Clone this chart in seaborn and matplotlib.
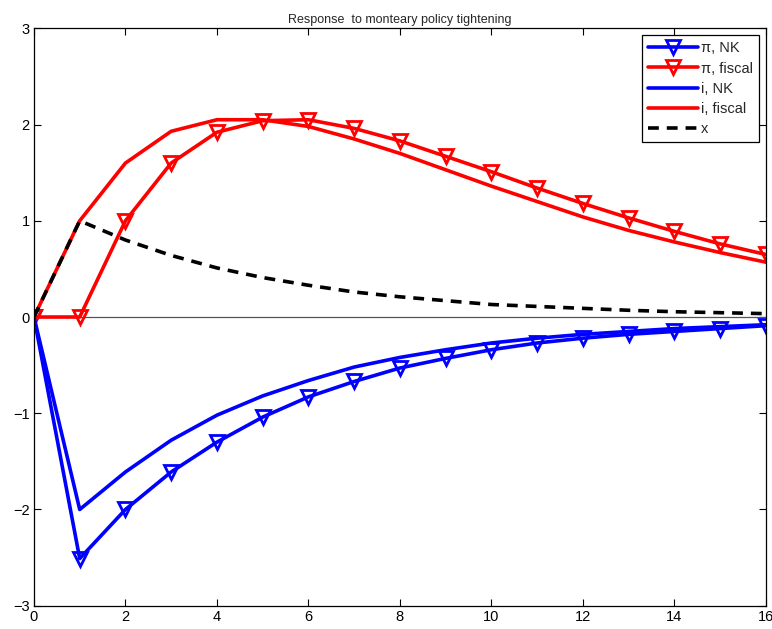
import matplotlib
matplotlib.use("Agg")
import matplotlib.pyplot as plt
import seaborn as sns
import numpy as np
import pandas as pd

periods = list(range(17))
pi_nk = [0, -2.51, -2.0, -1.61, -1.30, -1.04, -0.83, -0.67, -0.53, -0.43, -0.34, -0.27, -0.22, -0.18, -0.15, -0.12, -0.09]
pi_fiscal = [0, 0, 1.0, 1.60, 1.92, 2.04, 2.05, 1.96, 1.83, 1.67, 1.51, 1.34, 1.18, 1.03, 0.89, 0.76, 0.65]
i_nk = [0, -2.0, -1.61, -1.28, -1.02, -0.82, -0.66, -0.52, -0.42, -0.34, -0.27, -0.22, -0.18, -0.15, -0.12, -0.10, -0.08]
i_fiscal = [0, 1.0, 1.60, 1.93, 2.05, 2.05, 1.98, 1.85, 1.70, 1.53, 1.36, 1.20, 1.04, 0.90, 0.78, 0.67, 0.57]
x_gap = [0, 1.0, 0.80, 0.64, 0.51, 0.41, 0.33, 0.26, 0.21, 0.17, 0.13, 0.11, 0.09, 0.07, 0.055, 0.045, 0.035]
title = "Response  to monteary policy tightening"

sns.set_style("ticks")
plt.rcParams['font.family'] = ['Liberation Sans', 'DejaVu Sans']

fig = plt.figure(figsize=(7.72, 6.29), dpi=100)
ax = fig.add_axes([0.044, 0.037, 0.948, 0.918])

df = pd.DataFrame({"t": periods, "pi_nk": pi_nk, "pi_fiscal": pi_fiscal,
                   "i_nk": i_nk, "i_fiscal": i_fiscal, "x": x_gap})

ax.axhline(0, color="#555555", lw=0.9, zorder=1)
lw = 2.6
sns.lineplot(data=df, x="t", y="pi_nk", ax=ax, color="#0000ff", lw=lw, marker="v",
             markersize=10, markerfacecolor="none", markeredgecolor="#0000ff", markeredgewidth=2.0,
             label="\u03c0, NK")
sns.lineplot(data=df, x="t", y="pi_fiscal", ax=ax, color="#ff0000", lw=lw, marker="v",
             markersize=10, markerfacecolor="none", markeredgecolor="#ff0000", markeredgewidth=2.0,
             label="\u03c0, fiscal")
sns.lineplot(data=df, x="t", y="i_nk", ax=ax, color="#0000ff", lw=lw, label="i, NK")
sns.lineplot(data=df, x="t", y="i_fiscal", ax=ax, color="#ff0000", lw=lw, label="i, fiscal")
sns.lineplot(data=df, x="t", y="x", ax=ax, color="black", lw=lw, linestyle=(0, (3, 2.2)), label="x")

ax.set_xlim(0, 16)
ax.set_ylim(-3, 3)
ax.set_xticks(range(0, 17, 2))
ax.set_yticks(range(-3, 4))
ax.set_yticklabels(["\u22123", "\u22122", "\u22121", "0", "1", "2", "3"])
ax.set_xlabel("")
ax.set_ylabel("")
ax.tick_params(direction="in", length=5, width=0.8, top=True, right=True, labelsize=10.5, pad=3, colors="black")
for s in ax.spines.values():
    s.set_visible(True)
    s.set_color("black")
    s.set_linewidth(0.9)
ax.set_title(title, fontsize=9, pad=4)

leg = ax.legend(loc="upper right", fontsize=10.5, frameon=True, fancybox=False, edgecolor="black",
                framealpha=1, handlelength=3.4, borderpad=0.45, labelspacing=0.42, handletextpad=0.2,
                borderaxespad=0.45)
leg.get_frame().set_linewidth(0.9)

fig.savefig("out.png", dpi=100)
